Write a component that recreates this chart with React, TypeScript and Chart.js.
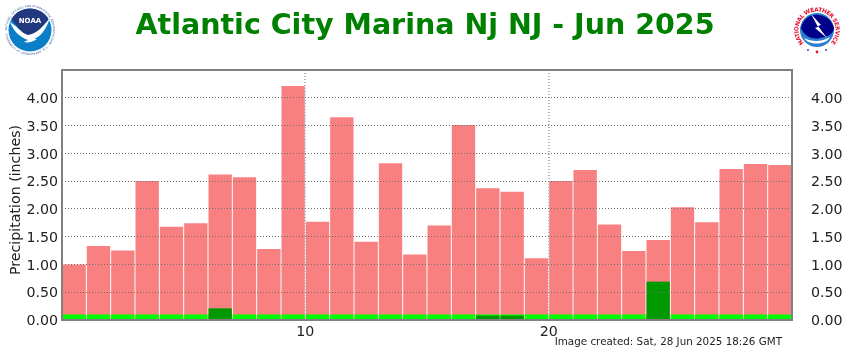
import React, { useEffect, useRef } from "react";
import { Chart, registerables } from "chart.js";

Chart.register(...registerables);

const TITLE = "Atlantic City Marina Nj NJ - Jun 2025";
const AXIS_LABEL = "Precipitation (inches)";
const CREATED = "Image created: Sat, 28 Jun 2025 18:26 GMT";
const FONT = "'DejaVu Sans', sans-serif";

const days = [1,2,3,4,5,6,7,8,9,10,11,12,13,14,15,16,17,18,19,20,21,22,23,24,25,26,27,28,29,30];
const normalValues = [1.00,1.33,1.25,2.50,1.68,1.74,2.62,2.57,1.28,4.21,1.77,3.65,1.41,2.82,1.18,1.70,3.51,2.37,2.31,1.11,2.50,2.70,1.72,1.24,1.44,2.03,1.76,2.72,2.81,2.79];
const baseValues = [0.1,0.1,0.1,0.1,0.1,0.1,0.1,0.1,0.1,0.1,0.1,0.1,0.1,0.1,0.1,0.1,0.1,0.1,0.1,0.1,0.1,0.1,0.1,0.1,0.1,0.1,0.1,0.1,0.1,0.1];
const observedDays = [7,18,19,25];
const observedValues = [0.21,0.08,0.08,0.69];

const frame = {
  id: "frame",
  afterDraw(chart: any) {
    const { ctx, chartArea: a } = chart;
    ctx.save();
    ctx.strokeStyle = "#808080";
    ctx.lineWidth = 2;
    ctx.strokeRect(a.left, a.top, a.right - a.left, a.bottom - a.top);
    ctx.fillStyle = "#222";
    ctx.font = `10.35px ${FONT}`;
    ctx.textAlign = "right";
    ctx.textBaseline = "alphabetic";
    ctx.fillText(CREATED, 782, 345);
    ctx.translate(20, 200);
    ctx.rotate(-Math.PI / 2);
    ctx.textAlign = "center";
    ctx.font = `14.2px ${FONT}`;
    ctx.fillText(AXIS_LABEL, 0, 0);
    ctx.restore();
  },
};

function NoaaLogo() {
  return (
    <svg width="52" height="52" viewBox="0 0 52 52" style={{ position: "absolute", left: 4, top: 4 }}>
      <defs>
        <path id="noaaRing" d="M26 26 m-23 0 a23 23 0 1 1 46 0 a23 23 0 1 1 -46 0" />
      </defs>
      <circle cx="26" cy="26" r="25" fill="#fff" />
      <circle cx="26" cy="26" r="21.5" fill="#0a7fc8" />
      <path d="M7.5 15 A21.5 21.5 0 0 1 44.5 15 C38 24 32 31 24 33 C17 28 12 21 7.5 15 Z" fill="#22397f" />
      <path d="M6 18 C13 22 17 29 24 31 C33 30 39 22 46 14 C42 26 36 33 30 35 L33 35 C29 38 24 39 20 38 L24 36 C15 33 9 26 6 18 Z" fill="#fff" />
      <text x="26" y="19" textAnchor="middle" fill="#fff" fontFamily={FONT} fontWeight="bold" fontSize="7">NOAA</text>
      <text fontFamily={FONT} fontSize="2.8" fill="#33509a">
        <textPath href="#noaaRing" textLength="140">NATIONAL OCEANIC AND ATMOSPHERIC ADMINISTRATION · U.S. DEPARTMENT OF COMMERCE</textPath>
      </text>
    </svg>
  );
}

function NwsLogo() {
  return (
    <svg width="50" height="50" viewBox="0 0 50 50" style={{ position: "absolute", left: 792, top: 5 }}>
      <defs>
        <path id="nwsTop" d="M11.9 38.1 A18.5 18.5 0 1 1 38.1 38.1" />
      </defs>
      <circle cx="25" cy="25" r="17" fill="#2a7fd0" />
      <path d="M9 23 C12 12 20 9 27 10 C35 11 40 16 42 23 C41 30 35 32 28 33 C20 35 12 31 9 23 Z" fill="#00008b" />
      <path d="M12 33 C20 37 30 37 38 32 C35 40 17 41 12 33 Z" fill="#fff" />
      <path d="M19 9 L29 20 L26 21 L35 33 L23 23 L26 22 Z" fill="#fff" />
      <text fontFamily={FONT} fontSize="5.8" fontWeight="bold" fill="#e8112d">
        <textPath href="#nwsTop" textLength="86" lengthAdjust="spacing">NATIONAL WEATHER SERVICE</textPath>
      </text>
      <circle cx="16" cy="45" r="1" fill="#3344cc" />
      <circle cx="34" cy="45" r="1" fill="#3344cc" />
      <circle cx="25" cy="47" r="1.4" fill="#e8112d" />
    </svg>
  );
}

export default function App() {
  const ref = useRef<HTMLCanvasElement>(null);

  useEffect(() => {
    if (!ref.current) return;
    const point = (d: number, y: number) => ({ x: d - 0.5, y });
    const chart = new Chart(ref.current, {
      type: "bar",
      data: {
        datasets: [
          {
            label: "Normal",
            data: days.map((d, i) => point(d, normalValues[i])),
            backgroundColor: "#f98080",
            order: 3,
          },
          {
            label: "Base",
            data: days.map((d, i) => point(d, baseValues[i])),
            backgroundColor: "#00ff00",
            order: 2,
          },
          {
            label: "Observed",
            data: observedDays.map((d, i) => point(d, observedValues[i])),
            backgroundColor: "#009900",
            order: 1,
          },
        ],
      },
      options: {
        responsive: false,
        animation: false,
        layout: { padding: 0 },
        datasets: { bar: { grouped: false, barPercentage: 0.96, categoryPercentage: 1 } },
        plugins: {
          legend: { display: false },
          tooltip: { enabled: false },
          title: {
            display: true,
            text: TITLE,
            color: "#008000",
            font: { family: FONT, size: 28.5, weight: "bold", lineHeight: 1.2 },
            padding: { top: 9.5, bottom: 26.3 },
          },
        },
        scales: {
          x: {
            type: "linear",
            min: 0,
            max: 30,
            offset: false,
            afterFit: (s: any) => { s.height = 30; },
            ticks: {
              stepSize: 10,
              padding: 4,
              color: "#222",
              font: { family: FONT, size: 14.2 },
              maxRotation: 0,
              callback: (v: any) => (v === 0 || v === 30 ? "" : String(v)),
            },
            grid: { offset: false, z: 1, color: "#b4b4b4", lineWidth: 2, drawTicks: false, tickLength: 0 },
            border: { display: false, dash: [1, 2] },
          },
          y: {
            min: 0,
            max: 4.5,
            position: "left",
            afterFit: (s: any) => { s.width = 62; },
            ticks: {
              stepSize: 0.5,
              padding: 4,
              labelOffset: 1.5,
              color: "#222",
              font: { family: FONT, size: 14.2 },
              callback: (v: any) => (v > 4.25 ? "" : Number(v).toFixed(2)),
            },
            grid: { z: 1, color: "#707070", drawTicks: false, tickLength: 0 },
            border: { display: false, dash: [1, 2] },
          },
          y1: {
            min: 0,
            max: 4.5,
            position: "right",
            afterFit: (s: any) => { s.width = 58; },
            ticks: {
              stepSize: 0.5,
              padding: 11,
              labelOffset: 1.5,
              color: "#222",
              font: { family: FONT, size: 14.2 },
              callback: (v: any) => (v > 4.25 ? "" : Number(v).toFixed(2)),
            },
            grid: { display: false },
            border: { display: false },
          },
        },
      } as any,
      plugins: [frame],
    });
    return () => chart.destroy();
  }, []);

  return (
    <div style={{ position: "fixed", left: 0, top: 0, width: 850, height: 350, background: "#fff" }}>
      <canvas ref={ref} width={850} height={350} style={{ display: "block" }} />
      <NoaaLogo />
      <NwsLogo />
    </div>
  );
}
